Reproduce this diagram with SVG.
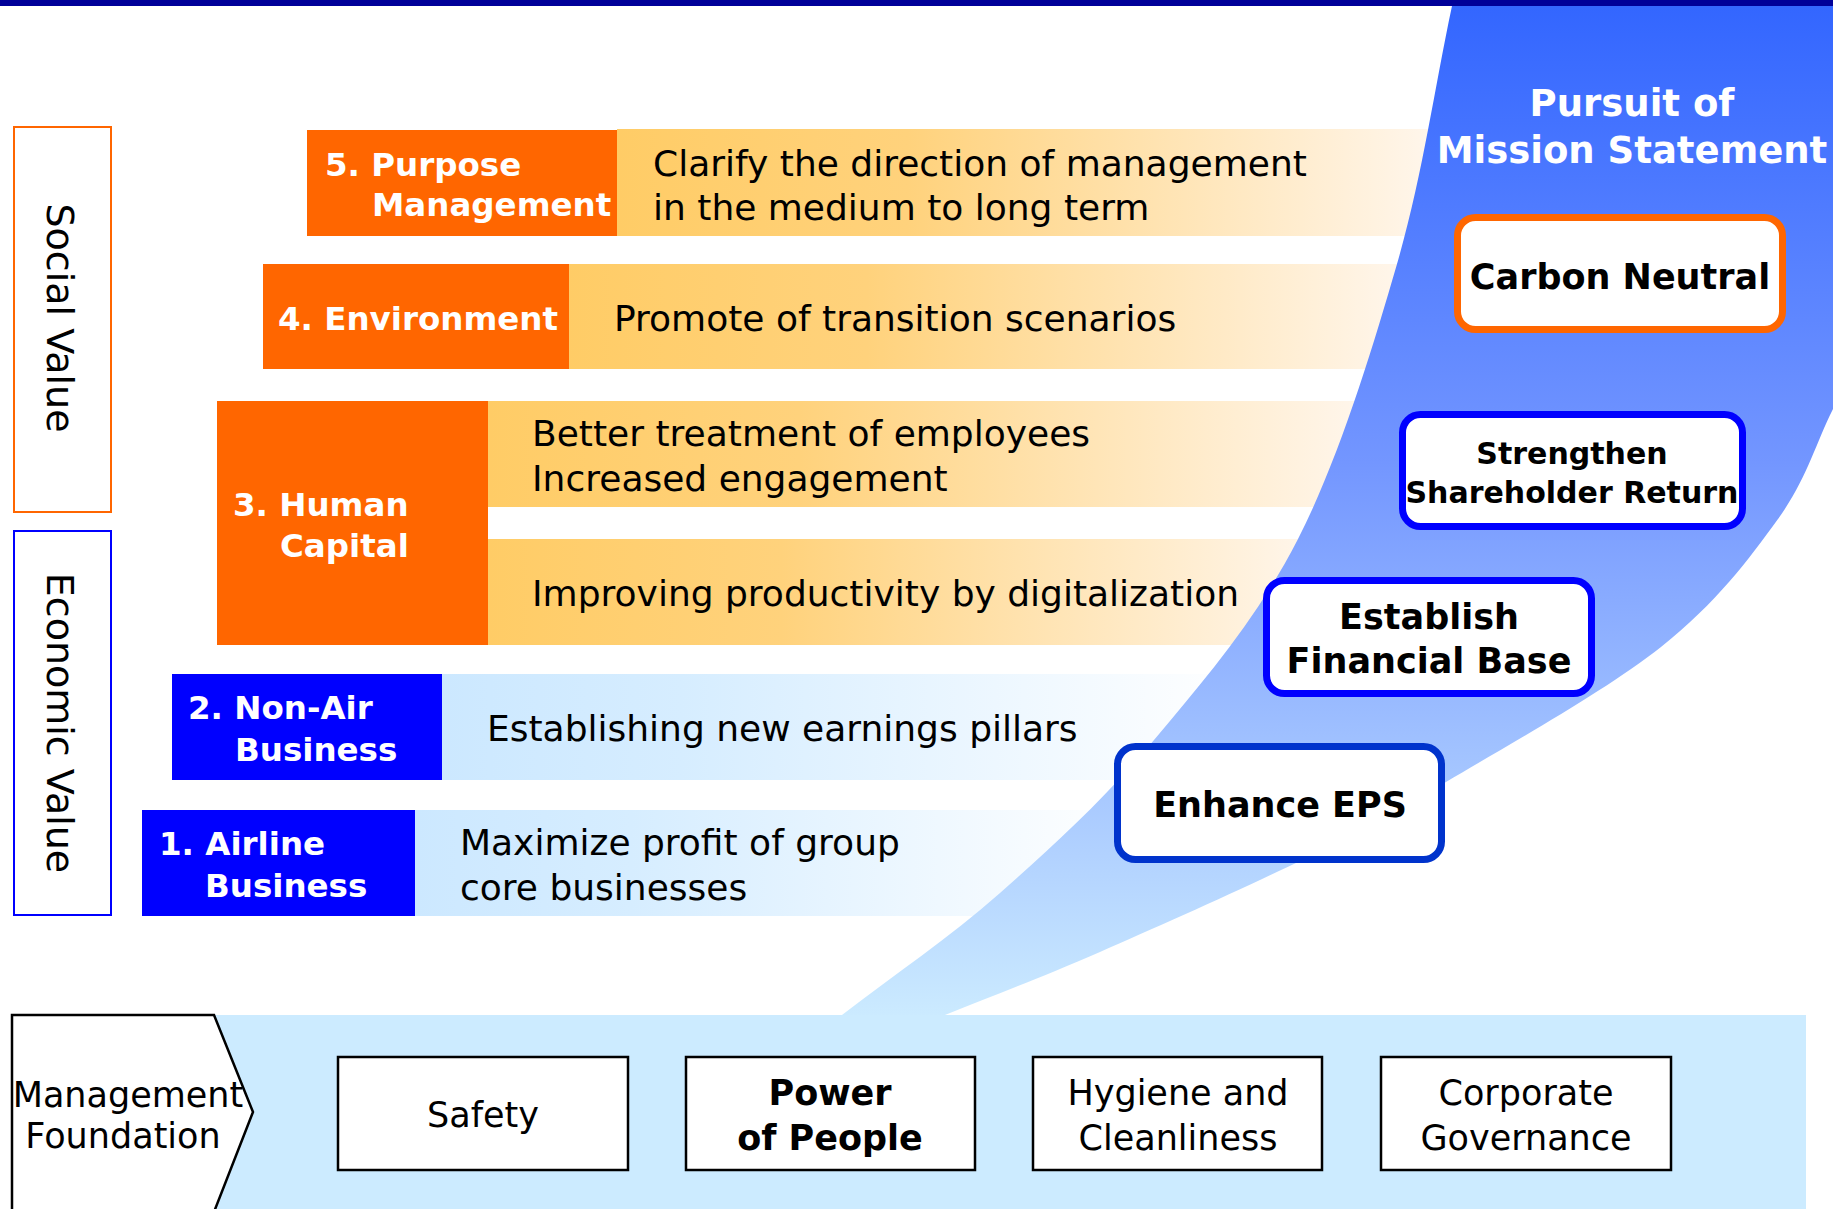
<svg xmlns="http://www.w3.org/2000/svg" width="1833" height="1209" viewBox="0 0 1833 1209">
  <defs>
    <linearGradient id="gOrange" x1="0" y1="0" x2="1" y2="0">
      <stop offset="0" stop-color="#FFCC66"/>
      <stop offset="0.35" stop-color="#FFD27C"/>
      <stop offset="1" stop-color="#FFF7EF"/>
    </linearGradient>
    <linearGradient id="gBlue" x1="0" y1="0" x2="1" y2="0">
      <stop offset="0" stop-color="#CCE8FF"/>
      <stop offset="0.3" stop-color="#D6EDFF"/>
      <stop offset="1" stop-color="#FFFFFF"/>
    </linearGradient>
    <linearGradient id="gMission" x1="0" y1="0" x2="0" y2="1">
      <stop offset="0" stop-color="#3366FF"/>
      <stop offset="0.45" stop-color="#7396FF"/>
      <stop offset="1" stop-color="#CCEBFF"/>
    </linearGradient>
    <style>
      text { font-family: "DejaVu Sans", Verdana, sans-serif; }
      .body { font-size: 36px; fill: #000; }
      .lbl { font-size: 32.5px; font-weight: bold; fill: #fff; }
      .goal { font-weight: bold; fill: #000; text-anchor: middle; }
      .side { font-size: 38px; fill: #000; text-anchor: middle; }
      .base { font-size: 35px; fill: #000; text-anchor: middle; }
      .orange { fill: #FF6600; }
      .navy { fill: #0000FF; }
      .goalbox { fill: #fff; stroke-width: 7; }
      .fbox { fill: #fff; stroke: #000; stroke-width: 2.5; }
    </style>
  </defs>

  <rect width="1833" height="1209" fill="#fff"/>

  <!-- strategy bars (text strips run under the curved band) -->
  <g id="bar-purpose">
    <rect x="617" y="129" width="830" height="107" fill="url(#gOrange)"/>
    <rect class="orange" x="307" y="130" width="310" height="106"/>
    <text class="lbl" x="325" y="176">5. Purpose</text>
    <text class="lbl" x="372" y="216">Management</text>
    <text class="body" x="653" y="176">Clarify the direction of management</text>
    <text class="body" x="653" y="220">in the medium to long term</text>
  </g>

  <g id="bar-environment">
    <rect x="569" y="264" width="850" height="105" fill="url(#gOrange)"/>
    <rect class="orange" x="263" y="264" width="306" height="105"/>
    <text class="lbl" x="278" y="330">4. Environment</text>
    <text class="body" x="614" y="331">Promote of transition scenarios</text>
  </g>

  <g id="bar-human-capital">
    <rect x="488" y="401" width="890" height="106" fill="url(#gOrange)"/>
    <rect x="488" y="539" width="840" height="106" fill="url(#gOrange)"/>
    <rect class="orange" x="217" y="401" width="271" height="244"/>
    <text class="lbl" x="233" y="516">3. Human</text>
    <text class="lbl" x="280" y="557">Capital</text>
    <text class="body" x="532" y="446">Better treatment of employees</text>
    <text class="body" x="532" y="491">Increased engagement</text>
    <text class="body" x="532" y="606">Improving productivity by digitalization</text>
  </g>

  <g id="bar-non-air">
    <rect x="442" y="674" width="800" height="106" fill="url(#gBlue)"/>
    <rect class="navy" x="172" y="674" width="270" height="106"/>
    <text class="lbl" x="188" y="719">2. Non-Air</text>
    <text class="lbl" x="235" y="761">Business</text>
    <text class="body" x="487" y="741">Establishing new earnings pillars</text>
  </g>

  <g id="bar-airline">
    <rect x="415" y="810" width="720" height="106" fill="url(#gBlue)"/>
    <rect class="navy" x="142" y="810" width="273" height="106"/>
    <text class="lbl" x="159" y="855">1. Airline</text>
    <text class="lbl" x="205" y="897">Business</text>
    <text class="body" x="460" y="855">Maximize profit of group</text>
    <text class="body" x="460" y="900">core businesses</text>
  </g>

  <!-- curved band leading up to the mission statement -->
  <g id="mission-band">
    <path fill="url(#gMission)" d="M1452,6 L1840,6 L1840,395 L1833,409 C1814.7,445.7 1806.7,479.3 1778,519 C1749.3,558.7 1716.3,603.2 1661,647 C1605.7,690.8 1505.2,746.8 1446,782 C1386.8,817.2 1363.7,829.7 1306,858 C1248.3,886.3 1160.2,925.8 1100,952 C1039.8,978.2 996.7,994 945,1015 L945,1020 L842,1020 L842,1015 C894.7,974.3 948,938.8 1000,893 C1052,847.2 1104.3,799 1154,740 C1203.7,681 1257.5,618.3 1298,539 C1338.5,459.7 1371.3,352.8 1397,264 C1422.7,175.2 1433.7,92 1452,6 Z"/>
    <text x="1632" y="116" font-size="37" font-weight="bold" fill="#fff" text-anchor="middle">Pursuit of</text>
    <text x="1632" y="163" font-size="37" font-weight="bold" fill="#fff" text-anchor="middle">Mission Statement</text>
  </g>

  <!-- top rule -->
  <rect x="0" y="0" width="1833" height="6" fill="#000099"/>

  <!-- goals along the band -->
  <g id="goal-carbon-neutral">
    <rect class="goalbox" x="1457.5" y="217.5" width="325" height="112" rx="18" stroke="#FF6600"/>
    <text class="goal" x="1620" y="289" font-size="35">Carbon Neutral</text>
  </g>
  <g id="goal-shareholder-return">
    <rect class="goalbox" x="1402.5" y="414.5" width="340" height="112" rx="18" stroke="#0000FF"/>
    <text class="goal" x="1572" y="464" font-size="30">Strengthen</text>
    <text class="goal" x="1572" y="503" font-size="30">Shareholder Return</text>
  </g>
  <g id="goal-financial-base">
    <rect class="goalbox" x="1266.5" y="580.5" width="325" height="113" rx="18" stroke="#0000FF"/>
    <text class="goal" x="1429" y="629" font-size="35">Establish</text>
    <text class="goal" x="1429" y="673" font-size="35">Financial Base</text>
  </g>
  <g id="goal-eps">
    <rect class="goalbox" x="1117.5" y="746.5" width="324" height="113" rx="18" stroke="#0033CC"/>
    <text class="goal" x="1280" y="817" font-size="35">Enhance EPS</text>
  </g>

  <!-- value axis labels -->
  <g id="axis-social">
    <rect x="14" y="127" width="97" height="385" fill="#fff" stroke="#FF6600" stroke-width="2"/>
    <text class="side" transform="translate(47,318) rotate(90)">Social Value</text>
  </g>
  <g id="axis-economic">
    <rect x="14" y="531" width="97" height="384" fill="#fff" stroke="#0000FF" stroke-width="2"/>
    <text class="side" transform="translate(47,723) rotate(90)">Economic Value</text>
  </g>

  <!-- management foundation strip -->
  <g id="foundation">
    <rect x="200" y="1015" width="1606" height="194" fill="#CCEBFF"/>
    <path d="M12,1212 L12,1015 L214,1015 L253,1112 L214,1212" fill="#fff" stroke="#000" stroke-width="2.5"/>
    <text class="base" x="128" y="1107" font-size="32">Management</text>
    <text class="base" x="123" y="1148" font-size="32">Foundation</text>
  </g>
  <g id="base-safety">
    <rect class="fbox" x="338" y="1057" width="290" height="113"/>
    <text class="base" x="483" y="1127">Safety</text>
  </g>
  <g id="base-people">
    <rect class="fbox" x="686" y="1057" width="289" height="113"/>
    <text class="base" x="830" y="1105" font-weight="bold">Power</text>
    <text class="base" x="830" y="1150" font-weight="bold">of People</text>
  </g>
  <g id="base-hygiene">
    <rect class="fbox" x="1033" y="1057" width="289" height="113"/>
    <text class="base" x="1178" y="1105">Hygiene and</text>
    <text class="base" x="1178" y="1150">Cleanliness</text>
  </g>
  <g id="base-governance">
    <rect class="fbox" x="1381" y="1057" width="290" height="113"/>
    <text class="base" x="1526" y="1105">Corporate</text>
    <text class="base" x="1526" y="1150">Governance</text>
  </g>
</svg>
